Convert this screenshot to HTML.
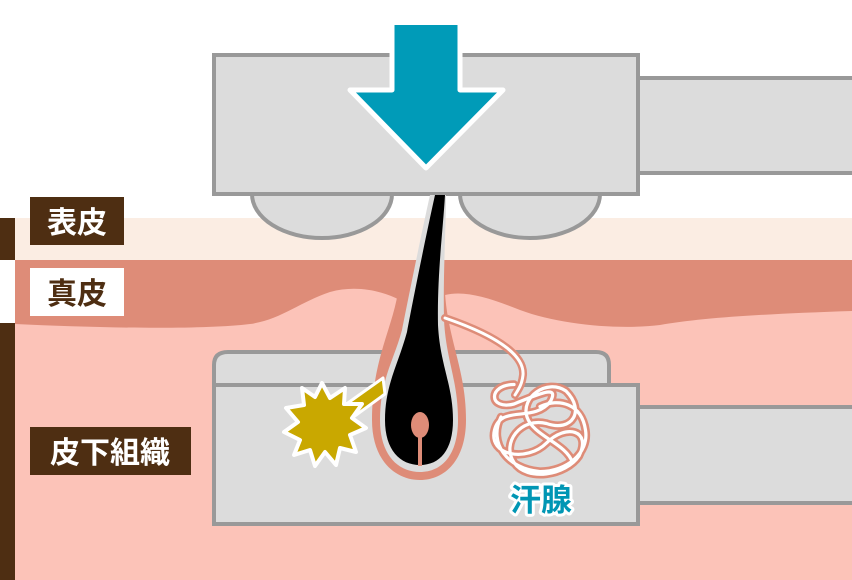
<!DOCTYPE html>
<html><head><meta charset="utf-8"><style>
html,body{margin:0;padding:0;background:#fff;}
svg{display:block}
text{font-family:"Liberation Sans","Noto Sans CJK JP",sans-serif;font-weight:bold}
</style></head><body>
<svg width="852" height="580" viewBox="0 0 852 580" xmlns="http://www.w3.org/2000/svg">
<rect x="0" y="0" width="852" height="580" fill="#fff"/>
<rect x="15" y="218" width="837" height="42" fill="#fbede3"/>
<rect x="15" y="260" width="837" height="320" fill="#fcc3b8"/>
<path d="M15 260 H852 V311 C760 314 700 318 660 325 C620 330 560 325 520 310 C490 298 465 290 445 295 L445 300 L400 300 C380 290 355 285 330 292 C300 302 280 320 250 324 C200 330 100 328 15 324 Z" fill="#de8c78"/>
<rect x="0" y="218" width="15" height="42" fill="#4e2e12"/>
<rect x="0" y="323" width="15" height="257" fill="#4e2e12"/>
<rect x="638" y="78" width="220" height="95" fill="#dcdcdc" stroke="#999" stroke-width="4"/>
<path d="M252 194 A70 44 0 0 0 392 194 Z" fill="#dcdcdc" stroke="#999" stroke-width="4"/>
<path d="M460 194 A70 44 0 0 0 600 194 Z" fill="#dcdcdc" stroke="#999" stroke-width="4"/>
<rect x="214" y="55" width="424" height="139" fill="#dcdcdc" stroke="#999" stroke-width="4"/>
<path d="M392 25 H460 V90 H503 L426 168 L350 90 H392 Z" fill="#009bb8" stroke="#fff" stroke-width="5" stroke-linejoin="round"/>
<rect x="394.5" y="20" width="63" height="8" fill="#009bb8"/>
<rect x="390" y="10" width="72" height="15" fill="#fff"/>
<rect x="638" y="407" width="220" height="96" fill="#dcdcdc" stroke="#999" stroke-width="4"/>
<path d="M214 385 V365 Q214 352 228 352 H596 Q609 352 609 365 V385 Z" fill="#dcdcdc" stroke="#999" stroke-width="4"/>
<rect x="214" y="385" width="424" height="139" fill="#dcdcdc" stroke="#999" stroke-width="4"/>
<path d="M398 292 C392 330 372 360 372 420 C372 460 395 480 420 480 C445 480 466 460 466 420 C466 370 448 340 445 293 Z" fill="#de8c78"/>
<path d="M430 195 C420 240 408 300 402 330 C394 360 380 380 380 420 C380 455 398 472 420 472 C442 472 458 455 458 420 C458 380 446 360 444 320 C443 270 446 230 446 195 Z" fill="#dcdcdc"/>
<path d="M435 195 C425 240 413 300 407 332 C398 365 385 385 385 420 C385 450 400 465 420 465 C440 465 453 450 453 420 C453 385 440 365 438 325 C437 275 443 230 445 195 Z" fill="#000"/>
<ellipse cx="420" cy="425" rx="9" ry="13" fill="#de8c78"/>
<rect x="418" y="432" width="4" height="34" fill="#de8c78"/>
<path d="M345 405 L383 378 L385 394 L352 418 Z" fill="#c9a800" stroke="#fff" stroke-width="3" stroke-linejoin="round"/>
<polygon points="322,383 330,398 345,388 344,404 362,404 352,418 366,428 350,435 356,452 340,448 336,465 325,452 315,466 310,450 294,455 300,440 284,432 298,422 286,408 304,405 302,388 315,397" fill="#c9a800" stroke="#fff" stroke-width="4" stroke-linejoin="round"/>
<g fill="none" stroke-linecap="round" stroke-linejoin="round">
<path d="M445 318 C480 330 525 350 523 375 C522 385 518 390 515 395" stroke="#de8c78" stroke-width="8"/>
<path d="M445 318 C480 330 525 350 523 375 C522 385 518 390 515 395" stroke="#fff" stroke-width="3"/>
<g transform="translate(540 430) scale(1.3) translate(-540 -430)">
<path d="M520 395 C500 395 500 415 520 410 C540 402 555 395 548 408 C535 425 510 410 505 430 C500 450 530 455 545 440 C560 425 580 430 570 450 C560 465 530 470 520 455 C510 440 525 420 545 425 C565 432 575 415 560 400 C545 390 525 405 530 420 C535 435 560 440 565 455 M510 420 C500 440 515 460 540 462 C560 462 578 448 575 430 C572 410 555 405 540 412" stroke="#de8c78" stroke-width="6.5"/>
<path d="M520 395 C500 395 500 415 520 410 C540 402 555 395 548 408 C535 425 510 410 505 430 C500 450 530 455 545 440 C560 425 580 430 570 450 C560 465 530 470 520 455 C510 440 525 420 545 425 C565 432 575 415 560 400 C545 390 525 405 530 420 C535 435 560 440 565 455 M510 420 C500 440 515 460 540 462 C560 462 578 448 575 430 C572 410 555 405 540 412" stroke="#fff" stroke-width="2.5"/>
</g>
</g>
<text x="541" y="511" font-size="31" text-anchor="middle" fill="#0096b4" stroke="#fff" stroke-width="6" paint-order="stroke" stroke-linejoin="round">汗腺</text>
<rect x="30" y="197" width="94" height="48" fill="#4e2e12"/>
<text x="77" y="233" font-size="30" text-anchor="middle" fill="#fff">表皮</text>
<rect x="30" y="268" width="94" height="48" fill="#fff"/>
<text x="77" y="304" font-size="30" text-anchor="middle" fill="#4e2e12">真皮</text>
<rect x="30" y="427" width="161" height="48" fill="#4e2e12"/>
<text x="110" y="463" font-size="30" text-anchor="middle" fill="#fff">皮下組織</text>
</svg>
</body></html>
